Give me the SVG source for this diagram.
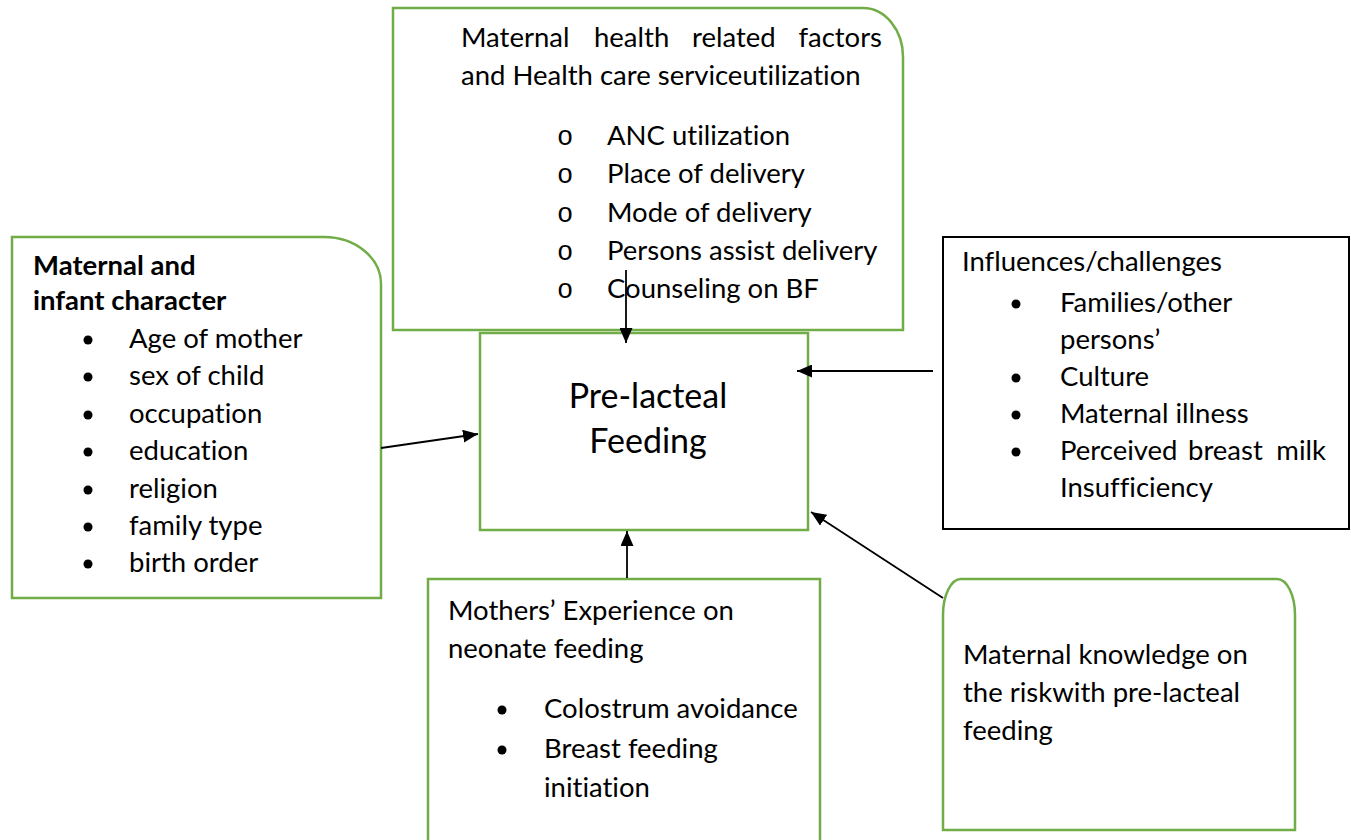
<svg xmlns="http://www.w3.org/2000/svg" width="1351" height="840" viewBox="0 0 1351 840">
<defs>
<style>
.g{fill:#fff;stroke:#70AD47;stroke-width:2.5}
.k{fill:#fff;stroke:#000;stroke-width:2}
.t{font-family:Lato,"Liberation Sans",sans-serif;font-size:27.5px;fill:#000;font-variant-ligatures:none}
.b{font-family:Lato,"Liberation Sans",sans-serif;font-size:27.5px;font-weight:bold;fill:#000;font-variant-ligatures:none}
.o{font-family:"Liberation Mono",monospace;font-size:27px;fill:#000;text-anchor:middle}
.c{font-family:Lato,"Liberation Sans",sans-serif;font-size:34px;fill:#000;text-anchor:middle;font-variant-ligatures:none}
.e{text-anchor:end}
.a{stroke:#000;stroke-width:1.8;fill:none;marker-end:url(#ah)}
</style>
<marker id="ah" markerUnits="userSpaceOnUse" markerWidth="15" markerHeight="13" viewBox="0 0 15 13" refX="15" refY="6.5" orient="auto">
<path d="M0,0 L15,6.5 L0,13 z" fill="#000"/>
</marker>
</defs>
<rect width="1351" height="840" fill="#fff"/>

<g id="maternal-health">
<path class="g" d="M393,8 H863 A40,49 0 0 1 903,57 V330 H393 Z"/>
<text class="t" x="461" y="47">Maternal</text>
<text class="t" x="594" y="47">health</text>
<text class="t" x="692" y="47">related</text>
<text class="t e" x="882" y="47">factors</text>
<text class="t" x="461" y="85">and Health care serviceutilization</text>
<text class="o" x="565" y="145">o</text>
<text class="t" x="607" y="145">ANC utilization</text>
<text class="o" x="565" y="183">o</text>
<text class="t" x="607" y="183">Place of delivery</text>
<text class="o" x="565" y="222">o</text>
<text class="t" x="607" y="222">Mode of delivery</text>
<text class="o" x="565" y="260">o</text>
<text class="t" x="607" y="260">Persons assist delivery</text>
<text class="o" x="565" y="298">o</text>
<text class="t" x="607" y="298">Counseling on BF</text>
</g>

<g id="maternal-infant">
<path class="g" d="M12,237 H324 A57,47 0 0 1 381,284 V598 H12 Z"/>
<text class="b" x="33" y="275">Maternal and</text>
<text class="b" x="33" y="310">infant character</text>
<circle cx="88" cy="340" r="4.5"/><text class="t" x="129" y="348">Age of mother</text>
<circle cx="88" cy="377" r="4.5"/><text class="t" x="129" y="385">sex of child</text>
<circle cx="88" cy="415" r="4.5"/><text class="t" x="129" y="423">occupation</text>
<circle cx="88" cy="452" r="4.5"/><text class="t" x="129" y="460">education</text>
<circle cx="88" cy="490" r="4.5"/><text class="t" x="129" y="498">religion</text>
<circle cx="88" cy="527" r="4.5"/><text class="t" x="129" y="535">family type</text>
<circle cx="88" cy="564" r="4.5"/><text class="t" x="129" y="572">birth order</text>
</g>

<g id="pre-lacteal">
<rect class="g" x="480" y="333" width="328" height="197"/>
<text class="c" x="648" y="408">Pre-lacteal</text>
<text class="c" x="648" y="453">Feeding</text>
</g>

<g id="influences">
<rect class="k" x="943" y="237" width="406" height="292"/>
<text class="t" x="962" y="271">Influences/challenges</text>
<circle cx="1016" cy="304" r="4.5"/><text class="t" x="1060" y="312">Families/other</text>
<text class="t" x="1060" y="349">persons’</text>
<circle cx="1016" cy="378" r="4.5"/><text class="t" x="1060" y="386">Culture</text>
<circle cx="1016" cy="415" r="4.5"/><text class="t" x="1060" y="423">Maternal illness</text>
<circle cx="1016" cy="452" r="4.5"/><text class="t" x="1060" y="460">Perceived</text>
<text class="t" x="1188" y="460">breast</text>
<text class="t e" x="1326" y="460">milk</text>
<text class="t" x="1060" y="497">Insufficiency</text>
</g>

<g id="mothers-experience">
<path class="g" d="M428,842 V579 H820 V842"/>
<text class="t" x="448" y="620">Mothers’ Experience on</text>
<text class="t" x="448" y="658">neonate feeding</text>
<circle cx="502" cy="710" r="4.5"/><text class="t" x="544" y="718">Colostrum avoidance</text>
<circle cx="502" cy="750" r="4.5"/><text class="t" x="544" y="758">Breast feeding</text>
<text class="t" x="544" y="797">initiation</text>
</g>

<g id="maternal-knowledge">
<path class="g" d="M943,830 V615 A18,36 0 0 1 961,579 H1277 A18,36 0 0 1 1295,615 V830 Z"/>
<text class="t" x="963" y="664">Maternal knowledge on</text>
<text class="t" x="963" y="702">the riskwith pre-lacteal</text>
<text class="t" x="963" y="740">feeding</text>
</g>

<g id="connectors">
<line class="a" x1="626" y1="270" x2="626" y2="343"/>
<line class="a" x1="381" y1="448" x2="478" y2="434"/>
<line class="a" x1="933" y1="371" x2="797" y2="371"/>
<line class="a" x1="627" y1="578" x2="627" y2="531"/>
<line class="a" x1="943" y1="598" x2="811" y2="512"/>
</g>
</svg>
